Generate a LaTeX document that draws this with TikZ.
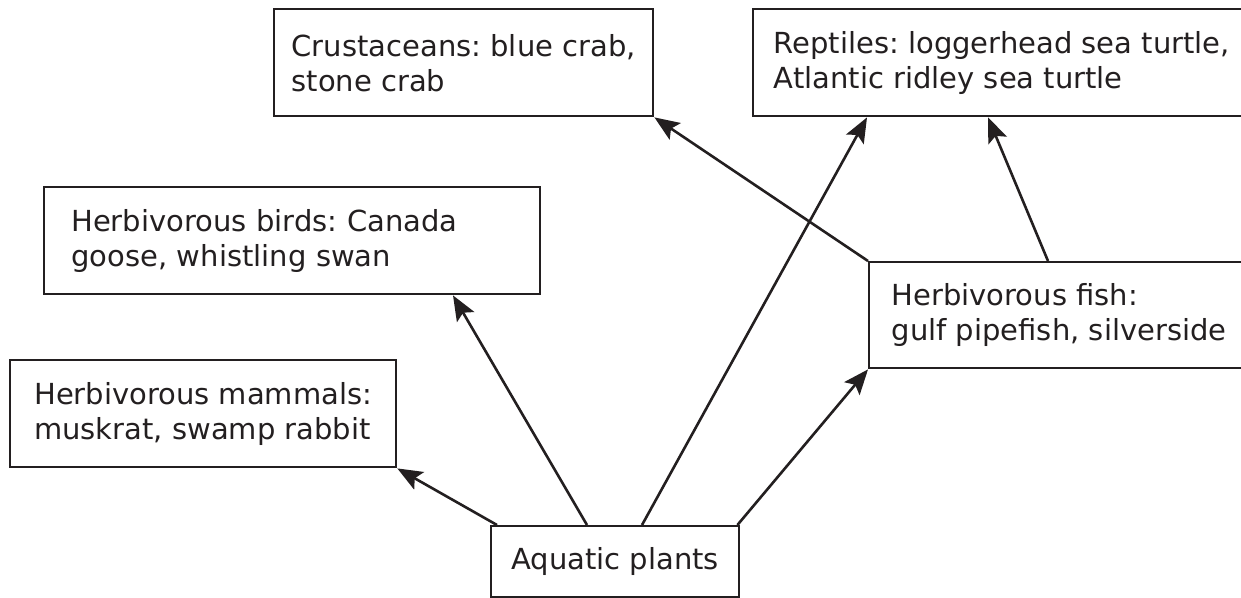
\documentclass[tikz,border=0pt]{standalone}
\usepackage{fontspec}
\setmainfont{DejaVu Sans}
\usetikzlibrary{calc, arrows.meta}

\begin{document}
\begin{tikzpicture}[x=1pt, y=-1pt,
    box/.style={draw=borderColour, line width=2.4pt, align=left, anchor=north west,
        inner ysep=0pt, text=textColour, font=\fontsize{29}{35}\selectfont\frenchspacing},
    link/.style={draw=borderColour, line width=2.6pt,
        -{Stealth[length=25pt, width=20pt, inset=5pt]}}]

    \definecolor{borderColour}{HTML}{231F20}
    \definecolor{textColour}{HTML}{231F20}

    % Fix the page size
    \useasboundingbox (0,0) rectangle (1241,597);

    % Draw the consumer boxes
    \node[box, inner xsep=17.5pt, minimum height=107pt] (crab) at (273,8)
        {Crustaceans: blue crab,\\stone crab};
    \node[box, inner xsep=20.5pt, minimum height=107pt] (reptiles) at (752,8)
        {Reptiles: loggerhead sea turtle,\\Atlantic ridley sea turtle};
    \node[box, inner xsep=27pt, text width=442pt, minimum height=107pt] (birds) at (43,186)
        {Herbivorous birds: Canada\\goose, whistling swan};
    \node[box, inner xsep=22.5pt, minimum height=106pt] (fish) at (868,261)
        {Herbivorous fish:\\gulf pipefish, silverside};
    \node[box, inner xsep=24pt, minimum height=107pt] (mammals) at (9,359)
        {Herbivorous mammals:\\muskrat, swamp rabbit};

    % Draw the producer box
    \node[box, align=center, minimum width=248pt, minimum height=71pt] (plants) at (490,525)
        {Aquatic plants};

    % Draw the links from the plants
    \draw[link] ($(plants.north west)+(7,0)$) -- (mammals.south east);
    \draw[link] ($(plants.north west)+(97,0)$) -- ($(birds.south west)+(410,0)$);
    \draw[link] ($(plants.north west)+(152,0)$) -- ($(reptiles.south west)+(115,0)$);
    \draw[link] ($(plants.north east)+(-3,0)$) -- (fish.south west);

    % Draw the links from the fish
    \draw[link] (fish.north west) -- (crab.south east);
    \draw[link] ($(fish.north west)+(180,0)$) -- ($(reptiles.south west)+(236,0)$);

\end{tikzpicture}
\end{document}
